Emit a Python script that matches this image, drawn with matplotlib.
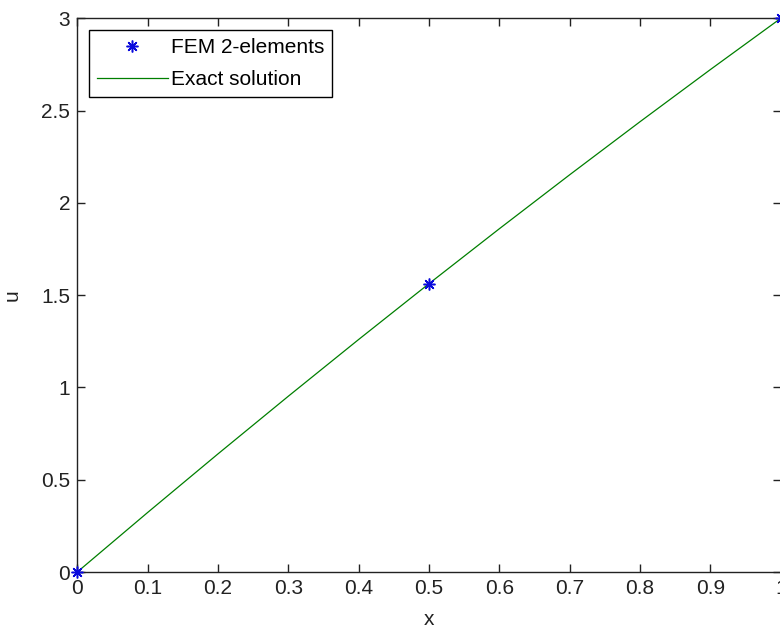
import numpy as np
import matplotlib
matplotlib.use('Agg')
import matplotlib.pyplot as plt

# ============================================================
# Data
# ============================================================

x_fem = [0.0, 0.5, 1.0]
u_fem = [0.0, 1.5625, 3.0]

x_exact = [0.0, 0.1, 0.2, 0.3, 0.4, 0.5, 0.6, 0.7, 0.8, 0.9, 1.0]
u_exact = [0.0, 0.3225, 0.64, 0.9525, 1.26, 1.5625, 1.86, 2.1525, 2.44, 2.7225, 3.0]

x_ticks = [0, 0.1, 0.2, 0.3, 0.4, 0.5, 0.6, 0.7, 0.8, 0.9, 1]
x_ticklabels = ['0', '0.1', '0.2', '0.3', '0.4', '0.5', '0.6', '0.7', '0.8', '0.9', '1']
y_ticks = [0, 0.5, 1, 1.5, 2, 2.5, 3]
y_ticklabels = ['0', '0.5', '1', '1.5', '2', '2.5', '3']

# ============================================================
# Figure
# ============================================================

plt.rcParams['font.family'] = ['Liberation Sans', 'DejaVu Sans']
plt.rcParams['font.size'] = 15

W, H = 780, 628
fig = plt.figure(figsize=(W / 100, H / 100), dpi=100)

# axes box in pixels (right edge runs just past the image)
left, right = 77.3, 780.8
top, bottom = 18.3, 572.0
ax = fig.add_axes([left / W, 1 - bottom / H, (right - left) / W, (bottom - top) / H])

# MATLAB-style '*' marker: 8-spoke asterisk
ax.plot(x_fem, u_fem, linestyle='none', marker=(8, 2, 0), color='#0a0adc',
        markersize=8.5, markeredgewidth=1.1, label='FEM 2-elements', clip_on=False, zorder=3)
ax.plot(x_exact, u_exact, color='#007f00', linewidth=0.9, label='Exact solution')

ax.set_xlim(0, 1)
ax.set_ylim(0, 3)
ax.set_xticks(x_ticks)
ax.set_xticklabels(x_ticklabels)
ax.set_yticks(y_ticks)
ax.set_yticklabels(y_ticklabels)

ax.tick_params(direction='in', length=6, width=1, top=True, right=True,
               labelsize=15, pad=5, colors='#222222')
for s in ax.spines.values():
    s.set_linewidth(1.0)
    s.set_color('#222222')

ax.set_xlabel('x', fontsize=15, color='#222222', labelpad=9)
ax.set_ylabel('u', fontsize=15, color='#222222', labelpad=14)

leg = ax.legend(loc='upper left',
                bbox_to_anchor=((89 - left) / (right - left), (bottom - 30) / (bottom - top)),
                borderaxespad=0, fancybox=False, framealpha=1, edgecolor='black',
                fontsize=15, handlelength=3.4, handletextpad=0.15,
                labelspacing=0.62, borderpad=0.38)
leg.get_frame().set_linewidth(1.0)

fig.savefig('out.png', dpi=100)
